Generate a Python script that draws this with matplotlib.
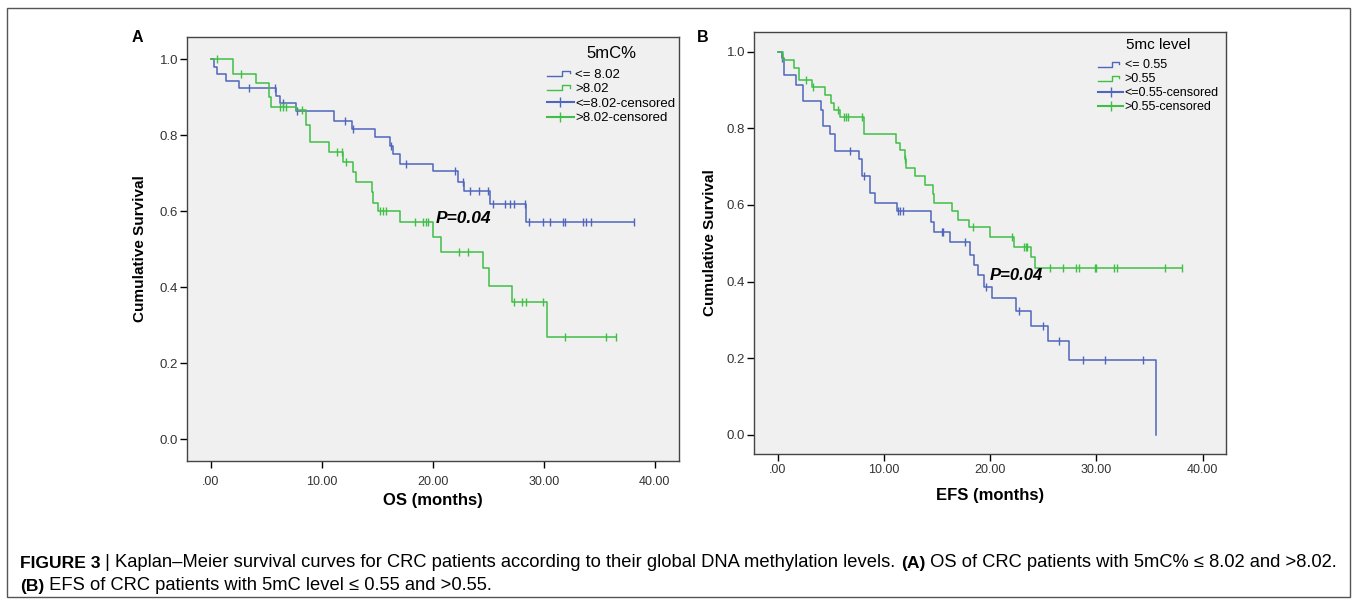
import matplotlib
matplotlib.use("Agg")
import matplotlib.pyplot as plt
import numpy as np
from matplotlib.legend_handler import HandlerBase
from matplotlib.lines import Line2D
from matplotlib.patches import Rectangle

plt.rcParams['font.family'] = ['Liberation Sans', 'DejaVu Sans']

BLUE = '#5066bd'
GREEN = '#3fbf45'

# ---- panel A : OS, 5mC% groups ----
a_low_time = [0, 0.3, 0.5, 1.4, 2.5, 5.9, 6.2, 7.7, 11.1, 12.7, 14.8, 16.1, 16.4, 17.0, 20.0, 22.3, 22.8, 25.2, 28.4]
a_low_surv = [1.0, 0.981, 0.962, 0.943, 0.924, 0.905, 0.884, 0.865, 0.838, 0.818, 0.795, 0.772, 0.750, 0.726, 0.707, 0.678, 0.654, 0.619, 0.571]
a_low_end = 38.1
a_low_cens = [3.4, 5.8, 6.5, 7.8, 12.1, 12.8, 16.2, 17.6, 22.0, 22.7, 23.4, 24.2, 25.0, 25.4, 26.5, 27.0, 27.3,
              28.3, 28.7, 29.9, 30.6, 31.7, 31.9, 33.5, 33.8, 34.3, 38.1]

a_high_time = [0, 2.0, 4.1, 5.2, 5.4, 7.7, 8.6, 8.9, 10.6, 11.9, 12.8, 13.1, 14.5, 14.6, 15.1, 17.0, 20.0, 20.7, 24.5, 25.1, 27.1, 30.3]
a_high_surv = [1.0, 0.961, 0.938, 0.900, 0.875, 0.867, 0.827, 0.783, 0.757, 0.730, 0.704, 0.678, 0.652, 0.621, 0.600, 0.573, 0.533, 0.494, 0.450, 0.403, 0.362, 0.270]
a_high_end = 36.5
a_high_cens = [0.5, 2.7, 6.2, 6.5, 6.8, 8.2, 11.4, 11.8, 12.2, 15.2, 15.5, 15.8, 18.4, 19.1, 19.4, 19.6,
               22.4, 23.2, 27.3, 28.0, 28.4, 29.9, 31.9, 35.6, 36.5]

# ---- panel B : EFS, 5mc level groups ----
b_low_time = [0, 0.4, 0.6, 1.7, 2.4, 4.1, 4.3, 4.9, 5.4, 7.7, 7.9, 8.7, 9.2, 11.2, 14.4, 14.7, 16.2, 18.1, 18.5,
              18.9, 19.4, 20.2, 22.4, 23.8, 25.4, 27.4, 35.6]
b_low_surv = [1.0, 0.983, 0.939, 0.913, 0.871, 0.848, 0.806, 0.785, 0.741, 0.719, 0.674, 0.630, 0.605, 0.583, 0.554,
              0.530, 0.504, 0.470, 0.444, 0.417, 0.387, 0.357, 0.322, 0.284, 0.246, 0.196, 0.0]
b_low_end = 35.6
b_low_cens = [0.4, 6.8, 8.1, 11.3, 11.5, 11.8, 15.5, 15.6, 17.6, 19.6, 22.7, 25.0, 26.5, 28.7, 30.8, 34.4]

b_high_time = [0, 0.5, 1.5, 2.0, 3.2, 4.5, 5.0, 5.3, 5.9, 8.1, 11.1, 11.5, 12.0, 12.1, 12.9, 13.9, 14.6, 14.7,
               16.4, 17.0, 18.0, 20.0, 22.2, 23.8, 24.2]
b_high_surv = [1.0, 0.978, 0.956, 0.926, 0.907, 0.887, 0.865, 0.848, 0.828, 0.785, 0.761, 0.744, 0.719, 0.696,
               0.674, 0.652, 0.629, 0.606, 0.585, 0.561, 0.542, 0.517, 0.491, 0.465, 0.435]
b_high_end = 38.1
b_high_cens = [2.7, 3.3, 5.7, 6.2, 6.4, 6.6, 7.9, 12.0, 18.4, 22.1, 23.2, 23.4, 23.5, 25.6, 26.9, 28.1, 28.4,
               29.9, 30.0, 31.7, 31.9, 36.5, 38.1]

x_ticks = [0, 10, 20, 30, 40]
x_ticklabels = ['.00', '10.00', '20.00', '30.00', '40.00']
y_ticks = [0.0, 0.2, 0.4, 0.6, 0.8, 1.0]
y_ticklabels = ['0.0', '0.2', '0.4', '0.6', '0.8', '1.0']


class StepHandler(HandlerBase):
    def create_artists(self, legend, orig_handle, xdescent, ydescent, width, height, fontsize, trans):
        xs = np.array([0, 0.55, 0.55, 0.85, 0.85]) * width - xdescent
        ys = np.array([0.2, 0.2, 0.75, 0.75, 0.45]) * height - ydescent
        return [Line2D(xs, ys, color=orig_handle.get_color(), lw=1.0, transform=trans)]


def km(ax, times, surv, end, cens, color):
    t = np.append(times, end)
    s = np.append(surv, surv[-1])
    ax.step(t, s, where='post', color=color, lw=1.1)
    idx = np.searchsorted(times, cens, side='right') - 1
    ax.plot(cens, np.asarray(surv)[idx], ls='none', marker='|', ms=6, mew=1.0, color=color)


def style(ax, xlabel, xlim, ylim, ylab_x, xlab_y, xpad):
    ax.set_facecolor('#f0f0f0')
    ax.set_xlim(*xlim)
    ax.set_ylim(*ylim)
    ax.set_xticks(x_ticks, x_ticklabels)
    ax.set_yticks(y_ticks, y_ticklabels)
    ax.tick_params(direction='out', length=5, width=1, labelsize=9, labelcolor='#333333')
    ax.tick_params(axis='x', pad=xpad)
    ax.tick_params(axis='y', pad=1.5, labelsize=9.5)
    for sp in ax.spines.values():
        sp.set_color('#444444')
        sp.set_linewidth(1)
    ax.set_ylabel('Cumulative Survival', fontsize=11, weight='bold', va='center')
    ax.set_xlabel(xlabel, fontsize=12, weight='bold', va='center')
    ax.yaxis.set_label_coords(ylab_x, 0.5)
    ax.xaxis.set_label_coords(0.5, xlab_y)


def add_legend(ax, title, labels, anchor, fs, tfs, spacing):
    h1 = Line2D([], [], color=BLUE)
    h2 = Line2D([], [], color=GREEN)
    h3 = Line2D([], [], color=BLUE, marker='|', ms=7, mew=1)
    h4 = Line2D([], [], color=GREEN, marker='|', ms=7, mew=1)
    leg = ax.legend([h1, h2, h3, h4], labels, title=title, loc='upper left', bbox_to_anchor=anchor,
                    frameon=False, fontsize=fs, title_fontsize=tfs, numpoints=1, handlelength=2.0,
                    handletextpad=0.12, labelspacing=spacing, borderaxespad=0, borderpad=0,
                    handler_map={h1: StepHandler(), h2: StepHandler()})
    leg._legend_box.align = 'center'
    leg._legend_box.sep = 5


fig = plt.figure(figsize=(13.57, 6.02), dpi=100)
W, H = 1357, 602

axA = fig.add_axes([187 / W, 1 - 461 / H, (679 - 187) / W, (461 - 37) / H])
km(axA, a_low_time, a_low_surv, a_low_end, a_low_cens, BLUE)
km(axA, a_high_time, a_high_surv, a_high_end, a_high_cens, GREEN)
style(axA, 'OS (months)', (-2.16, 42.2), (-0.057, 1.059), -0.095, -0.094, 6)
add_legend(axA, '5mC%', ['<= 8.02', '>8.02', '<=8.02-censored', '>8.02-censored'], (0.732, 0.978), 9.5, 12, 0.18)
axA.text(20.3, 0.582, 'P=0.04', fontsize=12.5, weight='bold', style='italic', va='center', ha='left')

axB = fig.add_axes([754 / W, 1 - 454 / H, (1226 - 754) / W, (454 - 32) / H])
km(axB, b_low_time, b_low_surv, b_low_end, b_low_cens, BLUE)
km(axB, b_high_time, b_high_surv, b_high_end, b_high_cens, GREEN)
style(axB, 'EFS (months)', (-2.23, 42.2), (-0.05, 1.051), -0.093, -0.0995, 2)
add_legend(axB, '5mc level', ['<= 0.55', '>0.55', '<=0.55-censored', '>0.55-censored'], (0.729, 0.985), 9, 11, 0.16)
axB.text(20.0, 0.417, 'P=0.04', fontsize=12, weight='bold', style='italic', va='center', ha='left')

fig.text(137 / W, 1 - 37 / H, 'A', fontsize=11.5, weight='bold', ha='center', va='center')
fig.text(703 / W, 1 - 37 / H, 'B', fontsize=11.5, weight='bold', ha='center', va='center')

fig.add_artist(Rectangle((7 / W, 1 - 597 / H), (1350 - 7) / W, (597 - 8) / H, transform=fig.transFigure,
                         fill=False, ec='#555555', lw=1))

# caption, written piece by piece so bold parts sit inline
cap = fig.add_axes([0, 0, 1, 1])
cap.set_axis_off()
cap_font = ['Liberation Sans Narrow', 'Liberation Sans', 'DejaVu Sans']
line1 = [('FIGURE 3', 'bold'), (' | Kaplan\u2013Meier survival curves for CRC patients according to their global DNA methylation levels. ', 'normal'),
         ('(A)', 'bold'), (' OS of CRC patients with 5mC% \u2264 8.02 and >8.02.', 'normal')]
line2 = [('(B)', 'bold'), (' EFS of CRC patients with 5mC level \u2264 0.55 and >0.55.', 'normal')]
for parts, ypix in [(line1, 571), (line2, 594)]:
    prev = None
    for txt, wt in parts:
        fs = 12.6 if wt == 'bold' else 13.2
        if prev is None:
            prev = cap.text(20 / W, 1 - ypix / H, txt, weight=wt, fontsize=fs, family=cap_font,
                            va='bottom', ha='left', transform=cap.transAxes)
        else:
            prev = cap.annotate(txt, xy=(1, 0), xycoords=prev, weight=wt, fontsize=fs, family=cap_font,
                                va='bottom', ha='left')

fig.savefig('out.png', dpi=100)
